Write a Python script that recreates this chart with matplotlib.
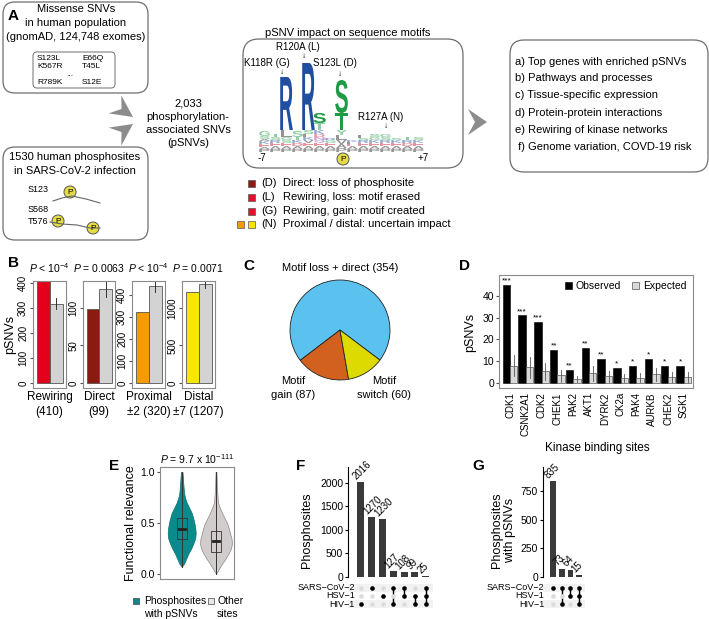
import matplotlib
matplotlib.use("Agg")
import matplotlib.pyplot as plt
import numpy as np
from matplotlib.patches import FancyBboxPatch, Rectangle, Circle, Polygon, PathPatch
from matplotlib.textpath import TextPath
from matplotlib.font_manager import FontProperties
from matplotlib.transforms import Affine2D, blended_transform_factory

plt.rcParams['font.family'] = ['Liberation Sans', 'DejaVu Sans']
plt.rcParams['mathtext.fontset'] = 'custom'
plt.rcParams['mathtext.rm'] = 'Liberation Sans'
plt.rcParams['mathtext.it'] = 'Liberation Sans:italic'

W, H = 709, 619

# ---- data -------------------------------------------------------------
# B: observed vs expected pSNVs
b_names = ['Rewiring', 'Direct', 'Proximal', 'Distal']
b_sub = ['(410)', '(99)', '\u00b12 (320)', '\u00b17 (1207)']
b_observed = [410, 99, 320, 1207]
b_expected = [318, 125, 440, 1320]
b_err = [22, 11, 29, 53]
b_pvals = [r'$P$ < 10$^{-4}$', r'$P$ = 0.0063', r'$P$ < 10$^{-4}$', r'$P$ = 0.0071']
b_ticks = [[0, 100, 200, 300, 400], [0, 50, 100], [0, 100, 200, 300, 400], [0, 500, 1000]]

# C: pie
c_labels = ['Motif loss + direct', 'Motif gain', 'Motif switch']
c_values = [354, 87, 60]

# D: kinase binding sites
d_kinases = ['CDK1', 'CSNK2A1', 'CDK2', 'CHEK1', 'PAK2', 'AKT1', 'DYRK2', 'CK2a',
             'PAK4', 'AURKB', 'CHEK2', 'SGK1']
d_observed = [45, 31, 28, 15, 6, 16, 11, 7, 8, 11, 8, 8]
d_expected = [8, 7.3, 5.5, 3.5, 1.8, 4.5, 3, 2.3, 2.3, 4, 2.6, 2.6]
d_exp_lo = [3, 2.5, 1.5, 0.5, 0.5, 1, 0.5, 0.5, 0.5, 1, 0.5, 0.5]
d_exp_hi = [13, 12, 9.3, 6, 3, 8, 5.5, 4, 4.5, 7, 5, 5]
d_stars = ['***', '***', '***', '**', '**', '**', '**', '*', '*', '*', '*', '*']

# E: violin outlines (level, half-width)
e_teal_y = [0.07, 0.1, 0.15, 0.2, 0.25, 0.3, 0.35, 0.4, 0.45, 0.5, 0.55, 0.6, 0.65, 0.7, 0.75, 0.8, 0.9, 1.0]
e_teal_w = [0, 2.3, 4.5, 6.7, 9.5, 11.7, 13.5, 14, 13.6, 12.7, 11.5, 10, 7.5, 5, 3.3, 2.3, 1.5, 0.8]
e_grey_y = [0.0, 0.05, 0.1, 0.15, 0.2, 0.25, 0.3, 0.35, 0.4, 0.45, 0.5, 0.55, 0.6, 0.65, 0.7, 0.8, 0.9, 1.0]
e_grey_w = [0, 3, 6, 9.5, 12.5, 15, 16, 15.5, 14, 12.8, 11, 8.5, 6, 3.8, 2, 1.2, 0.8, 0.5]
e_teal_box = [0.34, 0.44, 0.55]
e_grey_box = [0.22, 0.32, 0.42]

# F / G: upset
viruses = ['HIV-1', 'HSV-1', 'SARS-CoV-2']
f_counts = [2016, 1270, 1230, 127, 108, 99, 25]
f_sets = [['HIV-1'], ['SARS-CoV-2'], ['HSV-1'], ['SARS-CoV-2', 'HIV-1'],
          ['SARS-CoV-2', 'HSV-1'], ['HSV-1', 'HIV-1'], ['SARS-CoV-2', 'HSV-1', 'HIV-1']]
g_counts = [835, 73, 64, 15]
g_sets = [['SARS-CoV-2'], ['SARS-CoV-2', 'HIV-1'], ['SARS-CoV-2', 'HSV-1'],
          ['SARS-CoV-2', 'HSV-1', 'HIV-1']]

# A: sequence logo stacks (bottom -> top, heights in px)
logo_cols = [
    [('P', 3), ('A', 2), ('E', 3), ('K', 3), ('A', 2), ('S', 3), ('G', 5)],
    [('P', 3), ('A', 3), ('E', 3), ('R', 3), ('S', 3), ('T', 3)],
    [('P', 3), ('A', 3), ('E', 3), ('S', 3), ('G', 3), ('L', 7), ('R', 53)],
    [('P', 3), ('A', 3), ('D', 3), ('K', 3), ('T', 3), ('S', 6)],
    [('P', 3), ('A', 3), ('E', 3), ('V', 3), ('K', 3), ('L', 3), ('S', 4), ('R', 67)],
    [('P', 3), ('A', 3), ('E', 3), ('Q', 3), ('N', 3), ('D', 3), ('K', 4), ('T', 7), ('S', 10)],
    [('P', 3), ('A', 3), ('E', 3), ('G', 3), ('R', 2)],
    [('P', 4), ('A', 4), ('V', 4), ('L', 5), ('Y', 5), ('T', 17), ('S', 33)],
    [('P', 3), ('A', 3), ('E', 2), ('L', 2), ('K', 2)],
    [('P', 3), ('A', 3), ('E', 3), ('R', 3), ('S', 2), ('L', 3)],
    [('P', 3), ('A', 3), ('E', 3), ('K', 3), ('G', 3), ('S', 3)],
    [('P', 3), ('A', 3), ('E', 3), ('R', 3), ('S', 3), ('G', 3)],
    [('P', 3), ('A', 3), ('E', 3), ('K', 3), ('S', 2)],
    [('P', 3), ('A', 3), ('D', 3), ('R', 3), ('T', 3)],
    [('P', 3), ('A', 3), ('E', 3), ('K', 3), ('S', 3)],
]

# ---- figure -----------------------------------------------------------
fig = plt.figure(figsize=(W / 100, H / 100), dpi=100)


def px_axes(x0, y0, x1, y1):
    return fig.add_axes([x0 / W, 1 - y1 / H, (x1 - x0) / W, (y1 - y0) / H])


ov = px_axes(0, 0, W, H)
ov.set_xlim(0, W)
ov.set_ylim(H, 0)
ov.axis('off')

GREY_FRAME = '#8a8a8a'


def rbox(x0, y0, x1, y1, r=12, lw=0.9, ec='#6e6e6e'):
    ov.add_patch(FancyBboxPatch((x0, y0), x1 - x0, y1 - y0,
                                boxstyle='round,pad=0,rounding_size=%g' % r,
                                ec=ec, fc='none', lw=lw))


def chevron(tip, ang, L=20, wd=12, notch=7, color='#8c8c8c'):
    d = np.array([np.cos(np.radians(ang)), np.sin(np.radians(ang))])
    n = np.array([-d[1], d[0]])
    tip = np.array(tip, dtype=float)
    back = tip - L * d
    pts = [tip, back + wd * n, tip - (L - notch) * d, back - wd * n]
    ov.add_patch(Polygon(pts, closed=True, fc=color, ec='none'))


def pcircle(x, y, r=6):
    ov.add_patch(Circle((x, y), r, fc='#E6DC45', ec='#555555', lw=0.7))
    ov.text(x, y + 0.5, 'P', ha='center', va='center', fontsize=6)


def panel_letter(x, y, s):
    ov.text(x, y, s, fontsize=11, fontweight='bold', ha='left', va='center')


# ---- panel A ----------------------------------------------------------
panel_letter(8, 16, 'A')
rbox(3, 2, 148, 93)
for yy, s in [(9, 'Missense SNVs'), (23, 'in human population'), (37, '(gnomAD, 124,748 exomes)')]:
    ov.text(76, yy, s, ha='center', va='center', fontsize=8)
rbox(33, 52, 115, 88, r=4, lw=0.7)
for (xx, yy, s) in [(37, 58, 'S123L'), (82, 58, 'E66Q'), (37, 67, 'K567R'), (82, 67, 'T45L'),
                    (37, 82, 'R789K'), (82, 82, 'S12E')]:
    ov.text(xx, yy, s, ha='left', va='center', fontsize=6)
ov.text(70, 74, '...', ha='center', va='center', fontsize=6)

chevron((133, 117), 35, L=22, wd=11, notch=8)
chevron((133, 124), -35, L=22, wd=11, notch=8)
for yy, s in [(103, '2,033'), (117, 'phosphorylation-'), (130, 'associated SNVs'), (143, '(pSNVs)')]:
    ov.text(188, yy, s, ha='center', va='center', fontsize=8)

rbox(3, 147, 148, 240)
ov.text(75, 157, '1530 human phosphosites', ha='center', va='center', fontsize=8)
ov.text(75, 171, 'in SARS-CoV-2 infection', ha='center', va='center', fontsize=8)
ov.text(28, 190, 'S123', ha='left', va='center', fontsize=6.5)
ov.text(28, 210, 'S568', ha='left', va='center', fontsize=6.5)
ov.text(28, 222, 'T576', ha='left', va='center', fontsize=6.5)
ov.plot([53, 62, 72, 86, 100], [201, 198, 196, 199, 203], color='#666666', lw=0.8)
ov.plot([50, 62, 77, 90, 100], [222, 224, 225, 228, 228], color='#666666', lw=0.8)
pcircle(70, 192)
pcircle(58, 221)
pcircle(93, 228)

# logo box
ov.text(348, 33, 'pSNV impact on sequence motifs', ha='center', va='center', fontsize=8)
rbox(243, 39, 463, 168, r=16)

aa_color = {}
for a in 'STGYC':
    aa_color[a] = '#1F9A45'
for a in 'KRH':
    aa_color[a] = '#1F4F9E'
for a in 'DE':
    aa_color[a] = '#D7263D'
for a in 'AVLIPWFM':
    aa_color[a] = '#2b2b2b'
for a in 'NQ':
    aa_color[a] = '#8E44AD'
logo_font = FontProperties(family='Liberation Sans', weight='bold')


def draw_letter(ch, x0, x1, ytop, ybot, color, alpha=1.0):
    tp = TextPath((0, 0), ch, size=1, prop=logo_font)
    ext = tp.get_extents()
    sx = (x1 - x0) / ext.width
    sy = -(ybot - ytop) / ext.height
    tr = Affine2D().translate(-ext.x0, -ext.y0).scale(sx, sy).translate(x0, ybot)
    ov.add_patch(PathPatch(tr.transform_path(tp), fc=color, ec='none', alpha=alpha))


base_y = 152
col_w = 11
for k, stack in enumerate(logo_cols):
    x0 = 259 + k * col_w
    y = base_y
    for ch, h in stack:
        big = h >= 8
        pad = -0.8 if big else 0.3
        draw_letter(ch, x0 + pad, x0 + col_w - pad, y - h, y, aa_color[ch],
                    alpha=1.0 if big else 0.5)
        y -= h

for (xx, yy, s, ax_, ay_) in [(298, 47, 'R120A (L)', 304, 57), (267, 63, 'K118R (G)', 282, 73),
                               (335, 63, 'S123L (D)', 340, 74), (381, 117, 'R127A (N)', 386, 127)]:
    ov.text(xx, yy, s, ha='center', va='center', fontsize=7)
    ov.text(ax_, ay_, '\u2193', ha='center', va='center', fontsize=6)
ov.text(262, 158, '-7', ha='center', va='center', fontsize=7)
ov.text(423, 158, '+7', ha='center', va='center', fontsize=7)
pcircle(343, 159)

leg_rows = [(183, ['#8B1A12'], '(D)', 'Direct: loss of phosphosite'),
            (197, ['#E3102A'], '(L)', 'Rewiring, loss: motif erased'),
            (211, ['#E3102A'], '(G)', 'Rewiring, gain: motif created'),
            (224, ['#F39C00', '#F5E400'], '(N)', 'Proximal / distal: uncertain impact')]
for yy, cols, tag, txt in leg_rows:
    xs = [251] if len(cols) == 1 else [240, 251]
    for xc, cc in zip(xs, cols):
        ov.add_patch(Rectangle((xc - 3.5, yy - 3.5), 7, 7, fc=cc, ec='#555555', lw=0.5))
    ov.text(261, yy, tag, ha='left', va='center', fontsize=8)
    ov.text(283, yy, txt, ha='left', va='center', fontsize=8)

chevron((487, 122), 0, L=19, wd=13, notch=7)
rbox(510, 40, 708, 172, r=14)
for yy, s in [(62, 'a) Top genes with enriched pSNVs'), (78, 'b) Pathways and processes'),
              (95, 'c) Tissue-specific expression'), (113, 'd) Protein-protein interactions'),
              (130, 'e) Rewiring of kinase networks'), (147, ' f) Genome variation, COVD-19 risk')]:
    ov.text(515, yy, s, ha='left', va='center', fontsize=8)

# ---- panel B ----------------------------------------------------------
panel_letter(8, 263, 'B')
b_frames = [(33, 66), (83, 115), (132, 165), (182, 215)]
b_ylims = [(-20, 408), (-6.7, 136), (-23, 463), (-67, 1360)]
b_colors = ['#E3001B', '#8A1B0F', '#F39C00', '#F7E600']
for i in range(4):
    xa, xb = b_frames[i]
    ax = px_axes(xa, 281, xb, 388)
    ax.bar([0, 1], [b_observed[i], b_expected[i]], width=1,
           color=[b_colors[i], '#D3D3D3'], edgecolor='#555555', linewidth=0.6)
    ax.plot([1, 1], [b_expected[i] - b_err[i], b_expected[i] + b_err[i]], color='#333333', lw=0.7)
    ax.set_xlim(-0.8, 1.75)
    ax.set_ylim(*b_ylims[i])
    ax.set_xticks([])
    ax.set_yticks(b_ticks[i])
    ax.tick_params(axis='y', labelsize=7, length=2.5, pad=1, labelrotation=90, color='#555555')
    for lab in ax.get_yticklabels():
        lab.set_va('center')
    for sp in ax.spines.values():
        sp.set_color(GREY_FRAME)
        sp.set_linewidth(0.8)
    xc = (xa + xb) / 2
    ov.text(xc, 268, b_pvals[i], ha='center', va='center', fontsize=7.5)
    ov.text(xc, 397, b_names[i], ha='center', va='center', fontsize=8.5)
    ov.text(xc, 412, b_sub[i], ha='center', va='center', fontsize=8.5)
ov.text(10, 334, 'pSNVs', rotation=90, ha='center', va='center', fontsize=9)

# ---- panel C ----------------------------------------------------------
panel_letter(243, 266, 'C')
axc = px_axes(290, 280, 390, 380)
axc.pie(c_values, colors=['#5BC1EE', '#D2601F', '#DCDA00'], startangle=-37, counterclock=True,
        wedgeprops=dict(edgecolor='#222222', linewidth=0.6))
axc.set_xlim(-1, 1)
axc.set_ylim(-1, 1)
ov.text(340, 268, '%s (%d)' % (c_labels[0], c_values[0]), ha='center', va='center', fontsize=8)
ov.text(293, 381, 'Motif', ha='center', va='center', fontsize=8)
ov.text(293, 395, 'gain (%d)' % c_values[1], ha='center', va='center', fontsize=8)
ov.text(384, 381, 'Motif', ha='center', va='center', fontsize=8)
ov.text(384, 395, 'switch (%d)' % c_values[2], ha='center', va='center', fontsize=8)

# ---- panel D ----------------------------------------------------------
panel_letter(459, 266, 'D')
axd = px_axes(499, 275, 693, 388)
xk = np.arange(len(d_kinases))
bw = 0.47
axd.bar(xk - bw / 2, d_observed, width=bw, color='black', edgecolor='black', linewidth=0.4,
        label='Observed')
axd.bar(xk + bw / 2, d_expected, width=bw, color='#D9D9D9', edgecolor='#555555', linewidth=0.5,
        label='Expected')
for xi, lo, hi in zip(xk, d_exp_lo, d_exp_hi):
    axd.plot([xi + bw / 2, xi + bw / 2], [lo, hi], color='#555555', lw=0.6)
for xi, v, s in zip(xk, d_observed, d_stars):
    axd.text(xi - bw / 2, v + 0.2, s, ha='center', va='bottom', fontsize=6)
axd.set_xlim(-0.7, 11.58)
axd.set_ylim(-2.3, 49.5)
axd.set_yticks([0, 10, 20, 30, 40])
axd.set_xticks(xk)
axd.set_xticklabels(d_kinases, rotation=90, fontsize=7)
axd.tick_params(axis='x', length=0, pad=3)
axd.tick_params(axis='y', labelsize=7.5, length=2.5, pad=1, color='#555555')
for sp in axd.spines.values():
    sp.set_color(GREY_FRAME)
    sp.set_linewidth(0.8)
axd.legend(loc='upper right', ncol=2, frameon=False, fontsize=7.5, handlelength=0.7,
           handleheight=0.7, columnspacing=1.0, handletextpad=0.4, borderaxespad=0.2)
ov.text(470, 332, 'pSNVs', rotation=90, ha='center', va='center', fontsize=9)
ov.text(597, 448, 'Kinase binding sites', ha='center', va='center', fontsize=8.5)

# ---- panel E ----------------------------------------------------------
panel_letter(109, 466, 'E')
axe = px_axes(160, 467, 234, 579)
axe.set_xlim(0, 74)
axe.set_ylim(-0.05, 1.05)
for xc, ys, ws, box, fc, ec in [(21.7, e_teal_y, e_teal_w, e_teal_box, '#0B8A8C', '#0a6f70'),
                                (56, e_grey_y, e_grey_w, e_grey_box, '#D2CDCC', '#8c8888')]:
    ys = np.array(ys)
    ws = np.array(ws)
    axe.fill_betweenx(ys, xc - ws, xc + ws, color=fc, ec=ec, lw=0.5)
    axe.plot([xc, xc], [ys[0], ys[-1]], color='#333333', lw=0.7)
    axe.add_patch(Rectangle((xc - 5, box[0]), 10, box[2] - box[0], fc=fc, ec='#333333', lw=0.6))
    axe.plot([xc - 3, xc + 3], [box[1], box[1]], color='#222222', lw=2)
axe.set_xticks([])
axe.set_yticks([0, 0.5, 1.0])
axe.set_yticklabels(['0.0', '0.5', '1.0'])
axe.tick_params(axis='y', labelsize=7.5, length=2.5, pad=1, color='#555555')
for sp in axe.spines.values():
    sp.set_color(GREY_FRAME)
    sp.set_linewidth(0.8)
ov.text(197, 459, r'$P$ = 9.7 x 10$^{-111}$', ha='center', va='center', fontsize=7.5)
ov.text(131, 523, 'Functional relevance', rotation=90, ha='center', va='center', fontsize=9)
ov.add_patch(Rectangle((133, 598), 6, 6, fc='#0B8A8C', ec='#444444', lw=0.5))
ov.text(144, 601, 'Phosphosites', ha='left', va='center', fontsize=7.5)
ov.text(144, 614, 'with pSNVs', ha='left', va='center', fontsize=7.5)
ov.add_patch(Rectangle((208, 598), 6, 6, fc='#E8E8E8', ec='#444444', lw=0.5))
ov.text(217, 601, 'Other', ha='left', va='center', fontsize=7.5)
ov.text(217, 614, 'sites', ha='left', va='center', fontsize=7.5)


# ---- panels F / G -----------------------------------------------------
def upset(xa, xb, ytop, ybot, my0, my1, counts, sets, xlim, ymax, ticks, lab_x):
    axb = px_axes(xa, ytop, xb, ybot)
    x = np.arange(len(counts))
    axb.bar(x, counts, width=0.65, color='#3a3a3a')
    for xi, c in zip(x, counts):
        axb.text(xi - 0.3, c + ymax * 0.008, str(c), rotation=45, rotation_mode='anchor',
                 ha='left', va='bottom', fontsize=7)
    axb.set_xlim(*xlim)
    axb.set_ylim(0, ymax)
    axb.set_xticks([])
    axb.set_yticks(ticks)
    axb.tick_params(axis='y', labelsize=7.5, length=2.5, pad=1)
    for s in ['top', 'right', 'bottom']:
        axb.spines[s].set_visible(False)
    axb.spines['left'].set_linewidth(0.8)

    axm = px_axes(xa, my0, xb, my1)
    axm.set_xlim(*xlim)
    axm.set_ylim(-0.6, 2.6)
    axm.axis('off')
    for r in [0, 2]:
        axm.axhspan(r - 0.5, r + 0.5, color='#F2F2F2', lw=0)
    for xi, members in zip(x, sets):
        rows = [viruses.index(m) for m in members]
        for r in range(3):
            axm.scatter([xi], [r], s=11, color='black' if r in rows else '#DDDDDD', zorder=3, lw=0)
        if len(rows) > 1:
            axm.plot([xi, xi], [min(rows), max(rows)], color='black', lw=1, zorder=2)
    tr = blended_transform_factory(ov.transData, axm.transData)
    for r, v in enumerate(viruses):
        axm.text(lab_x, r, v.replace('-', '\u2212'), transform=tr, ha='right', va='center',
                 fontsize=6.5, clip_on=False)
    return axb


panel_letter(296, 466, 'F')
upset(348, 433, 467, 577, 583, 609, f_counts, f_sets, (-1.2, 6.67), 2330,
      [0, 500, 1000, 1500, 2000], 355)
ov.text(307, 530, 'Phosphosites', rotation=90, ha='center', va='center', fontsize=9)

panel_letter(472, 466, 'G')
upset(543, 585, 467, 577, 583, 609, g_counts, g_sets, (-1.15, 3.68), 958,
      [0, 250, 500, 750], 544)
ov.text(497, 530, 'Phosphosites', rotation=90, ha='center', va='center', fontsize=9)
ov.text(510, 530, 'with pSNVs', rotation=90, ha='center', va='center', fontsize=9)

fig.savefig('out.png', dpi=100)
